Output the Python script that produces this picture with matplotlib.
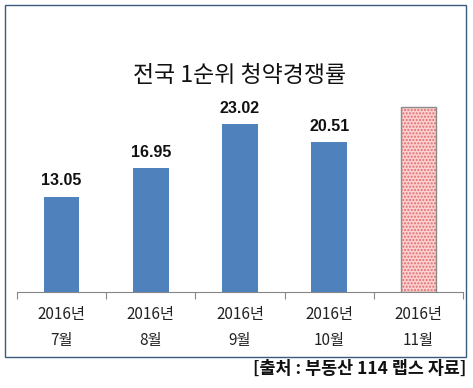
import matplotlib
matplotlib.use("Agg")
import matplotlib.pyplot as plt
from matplotlib.patches import Rectangle

plt.rcParams['font.family'] = ['Noto Sans CJK KR', 'DejaVu Sans']

categories = ["2016년\n7월", "2016년\n8월", "2016년\n9월", "2016년\n10월", "2016년\n11월"]
values = [13.05, 16.95, 23.02, 20.51, 25.3]
labels = ["13.05", "16.95", "23.02", "20.51", ""]
title = "전국 1순위 청약경쟁률"
source = "[출처 : 부동산 114 랩스 자료]"

fig = plt.figure(figsize=(4.73, 3.88), dpi=100)
ax = fig.add_axes([0.036, 0.247, 0.943, 0.678])

x = list(range(len(categories)))
solid_x = x[:-1]
solid_v = values[:-1]
ax.bar(solid_x, solid_v, width=0.4, color='#4f81bd', edgecolor='none')
# pending bar: pink with dotted hatch
ax.bar(x[-1:], values[-1:], width=0.4, color='#fbd0d0', edgecolor='#e36c6c',
       hatch='.....', linewidth=0)
ax.bar(x[-1:], values[-1:], width=0.4, fill=False, edgecolor='#8c8c8c', linewidth=1)

for xi, v, lab in zip(x, values, labels):
    if lab:
        ax.annotate(lab, (xi, v), xytext=(0, 6), textcoords='offset points',
                    ha='center', va='bottom', fontsize=11.5, fontweight='bold',
                    family=['Liberation Sans'], color='#111111')

ax.set_xlim(-0.5, len(categories) - 0.5)
ax.set_ylim(0, 36)
for s in ['top', 'left', 'right']:
    ax.spines[s].set_visible(False)
ax.spines['bottom'].set_color('#868686')
ax.set_yticks([])
ax.set_xticks([i + 0.5 for i in [-1] + x])
ax.tick_params(axis='x', which='major', length=5, color='#868686', labelbottom=False)
ax.set_xticks(x, minor=True)
ax.set_xticklabels(categories, minor=True)
ax.tick_params(axis='x', which='minor', length=0, pad=10, labelsize=11, labelcolor='#222222')
for t in ax.get_xticklabels(minor=True):
    t.set_linespacing(1.7)

fig.text(0.507, 0.805, title, ha='center', va='center', fontsize=16.5, color='#111111')

fig.patches.append(Rectangle((5/473, 1 - 357/388), 461/473, 352/388,
                             transform=fig.transFigure, fill=False,
                             edgecolor='#3c5a7c', linewidth=1.0))

fig.text(0.985, 1 - 369/388, source, ha='right', va='center', fontsize=12.5,
         fontweight='bold', color='#111111')

fig.savefig("out.png", dpi=100)
